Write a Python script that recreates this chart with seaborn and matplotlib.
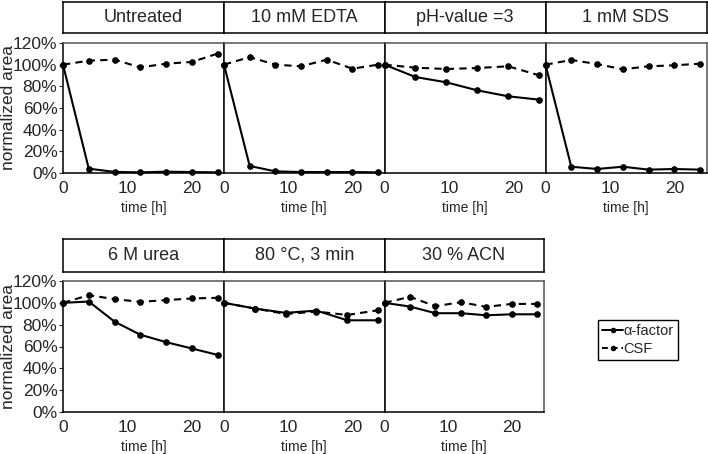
import matplotlib
matplotlib.use("Agg")
import matplotlib.pyplot as plt
import seaborn as sns
from matplotlib.ticker import PercentFormatter
from matplotlib.lines import Line2D

sns.set_style("white")
plt.rcParams['font.family'] = ['Liberation Sans', 'DejaVu Sans']

# time points [h]
times7 = [0, 4, 8, 12, 16, 20, 24]
times6 = [0, 4.8, 9.6, 14.4, 19.2, 24]

# normalized area [%]
untreated_alpha = [100, 4, 1, 0.6, 1.2, 0.9, 0.6]
untreated_csf = [100, 103.7, 104.6, 97.5, 100.9, 102.5, 110.2]
edta_alpha = [100, 6.5, 1.5, 0.9, 0.9, 0.9, 0.6]
edta_csf = [100, 107, 100, 98.5, 104.6, 96.3, 100]
ph_alpha = [100, 88.6, 83.7, 76.3, 70.8, 67.7]
ph_csf = [100, 97.2, 96, 96.9, 98.5, 90.2]
sds_alpha = [100, 5.8, 3.7, 5.8, 3.1, 3.7, 3.1]
sds_csf = [100, 104.3, 100.6, 95.7, 98.5, 99.4, 100.9]
urea_alpha = [100, 101.2, 82.8, 70.8, 64, 58.2, 52.3]
urea_csf = [100, 107, 103.4, 100.9, 102.5, 104, 104.6]
heat_alpha = [100, 94.8, 90.8, 92.9, 84, 84]
heat_csf = [100, 94.8, 89.8, 92, 88.9, 93.2]
acn_alpha = [100, 96.6, 90.5, 90.5, 88.6, 89.5, 89.5]
acn_csf = [100, 105.5, 96.9, 100.6, 96.3, 99, 99]

titles_top = ['Untreated', '10 mM EDTA', 'pH-value =3', '1 mM SDS']
titles_bottom = ['6 M urea', '80 °C, 3 min', '30 % ACN']

panels_top = [
    (times7, untreated_alpha, untreated_csf),
    (times7, edta_alpha, edta_csf),
    (times6, ph_alpha, ph_csf),
    (times7, sds_alpha, sds_csf),
]
panels_bottom = [
    (times7, urea_alpha, urea_csf),
    (times6, heat_alpha, heat_csf),
    (times7, acn_alpha, acn_csf),
]

W, H = 708, 454
fig = plt.figure(figsize=(W / 100, H / 100), dpi=100)
fig.patch.set_facecolor('white')


def px_axes(x0, y0, x1, y1):
    return fig.add_axes([x0 / W, 1 - y1 / H, (x1 - x0) / W, (y1 - y0) / H])


def draw_row(edges, ax_y, title_y, titles, panels):
    for i, (title, (t, a, c)) in enumerate(zip(titles, panels)):
        x0, x1 = edges[i], edges[i + 1]

        # title box
        tax = px_axes(x0, title_y[0], x1, title_y[1])
        tax.set_xticks([])
        tax.set_yticks([])
        for s in tax.spines.values():
            s.set_color('black')
            s.set_linewidth(1.1)
        tax.text(0.5, 0.5, title, ha='center', va='center', fontsize=13,
                 transform=tax.transAxes)

        ax = px_axes(x0, ax_y[0], x1, ax_y[1])
        sns.lineplot(x=t, y=a, ax=ax, color='black', marker='o', markersize=4.8,
                     markeredgewidth=0, linewidth=1.5, clip_on=False)
        sns.lineplot(x=t, y=c, ax=ax, color='black', marker='o', markersize=4.8,
                     markeredgewidth=0, linewidth=1.5, linestyle=(0, (3.5, 2.5)),
                     clip_on=False)
        ax.set_xlim(0, 25)
        ax.set_ylim(0, 120)
        ax.set_xticks([0, 10, 20])
        ax.tick_params(axis='x', length=0, pad=6, labelsize=12.5)
        for name, s in ax.spines.items():
            s.set_linewidth(1.1)
            s.set_color('#555555')
        ax.spines['left'].set_color('black')
        ax.spines['bottom'].set_color('black')
        if i == 0:
            ax.set_yticks(range(0, 121, 20))
            ax.yaxis.set_major_formatter(PercentFormatter(decimals=0))
            ax.tick_params(axis='y', length=3, width=0.8, pad=1, labelsize=12.5,
                           left=True)
        else:
            ax.set_yticks([])
        ax.set_xlabel('')
        ax.set_ylabel('')
        fig.text((x0 + x1) / 2 / W, 1 - (ax_y[1] + 35) / H, 'time [h]',
                 ha='center', va='center', fontsize=10)

    fig.text(9 / W, 1 - (ax_y[0] + ax_y[1]) / 2 / H, 'normalized area',
             rotation=90, ha='center', va='center', fontsize=12.5)


draw_row([63, 224, 384.5, 545.5, 706.5], (43, 173), (2, 33), titles_top, panels_top)
draw_row([63, 224, 384.5, 543.5], (281, 412), (239, 272), titles_bottom, panels_bottom)

handles = [
    Line2D([], [], color='black', marker='o', markersize=4, markeredgewidth=0,
           linewidth=1.4),
    Line2D([], [], color='black', marker='o', markersize=4, markeredgewidth=0,
           linewidth=1.4, linestyle=(0, (3, 2))),
]
leg = fig.legend(handles, ['α-factor', 'CSF'], loc='upper left',
                 bbox_to_anchor=(598 / W, 1 - 320 / H), fancybox=False,
                 edgecolor='black', framealpha=1, handlelength=1.4,
                 handletextpad=0.05, labelspacing=0.25, borderpad=0.3,
                 borderaxespad=0, prop={'size': 10.5})
leg.get_frame().set_linewidth(1.0)

fig.savefig('out.png', dpi=100)
